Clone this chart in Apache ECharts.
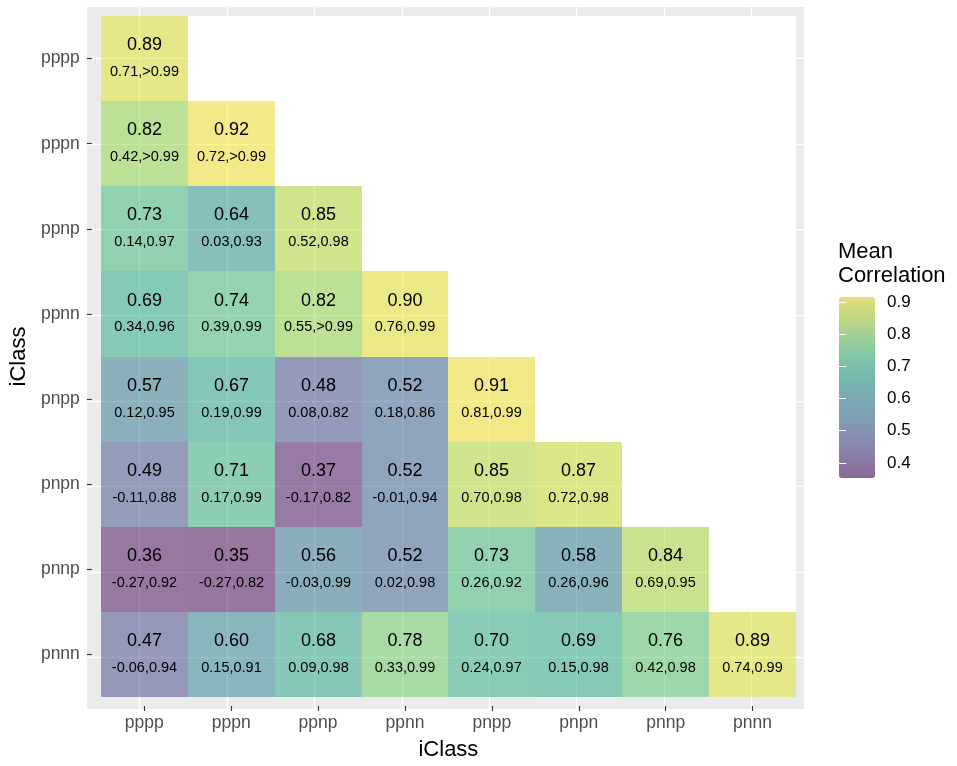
<!DOCTYPE html>
<html>
<head>
<meta charset="utf-8">
<script src="https://cdn.jsdelivr.net/npm/echarts@6/dist/echarts.min.js"></script>
<style>
html,body{margin:0;padding:0;background:#fff}
#main{width:957px;height:766px}
</style>
</head>
<body>
<div id="main"></div>
<script>
var classes = ['pppp','pppn','ppnp','ppnn','pnpp','pnpn','pnnp','pnnn'];

// lower triangle, one row per y class (pppp at top)
var meanRows = [
    [0.89],
    [0.82, 0.92],
    [0.73, 0.64, 0.85],
    [0.69, 0.74, 0.82, 0.90],
    [0.57, 0.67, 0.48, 0.52, 0.91],
    [0.49, 0.71, 0.37, 0.52, 0.85, 0.87],
    [0.36, 0.35, 0.56, 0.52, 0.73, 0.58, 0.84],
    [0.47, 0.60, 0.68, 0.78, 0.70, 0.69, 0.76, 0.89]
];
var ciRows = [
    ['0.71,>0.99'],
    ['0.42,>0.99','0.72,>0.99'],
    ['0.14,0.97','0.03,0.93','0.52,0.98'],
    ['0.34,0.96','0.39,0.99','0.55,>0.99','0.76,0.99'],
    ['0.12,0.95','0.19,0.99','0.08,0.82','0.18,0.86','0.81,0.99'],
    ['-0.11,0.88','0.17,0.99','-0.17,0.82','-0.01,0.94','0.70,0.98','0.72,0.98'],
    ['-0.27,0.92','-0.27,0.82','-0.03,0.99','0.02,0.98','0.26,0.92','0.26,0.96','0.69,0.95'],
    ['-0.06,0.94','0.15,0.91','0.09,0.98','0.33,0.99','0.24,0.97','0.15,0.98','0.42,0.98','0.74,0.99']
];
var legendTicks = [0.4, 0.5, 0.6, 0.7, 0.8, 0.9];
var colorRange = [0.353, 0.915];

// viridis, alpha 0.5 like the ggplot tiles
var viridis = ['rgba(68,1,84,0.5)','rgba(72,36,117,0.5)','rgba(65,68,135,0.5)','rgba(53,95,141,0.5)',
    'rgba(42,120,142,0.5)','rgba(33,145,140,0.5)','rgba(34,168,132,0.5)','rgba(68,191,112,0.5)',
    'rgba(122,209,81,0.5)','rgba(189,223,38,0.5)','rgba(253,231,37,0.5)'];

var cells = [], naCells = [];
for (var r = 0; r < classes.length; r++) {
    for (var c = 0; c < classes.length; c++) {
        if (c < meanRows[r].length) {
            cells.push({value: [c, r, meanRows[r][c]], ci: ciRows[r][c]});
        } else {
            naCells.push([c, r]);   // NA tiles -> white
        }
    }
}

var font = "'Liberation Sans', Arial, Helvetica, sans-serif";

// tile rect snapped to whole pixels so neighbours don't overlap
function tileShape(api) {
    var p = api.coord([api.value(0), api.value(1)]);
    var s = api.size([1, 1]);
    var x0 = Math.round(p[0] - s[0] / 2), x1 = Math.round(p[0] + s[0] / 2);
    var y0 = Math.round(p[1] - s[1] / 2), y1 = Math.round(p[1] + s[1] / 2);
    return {x: x0, y: y0, width: x1 - x0, height: y1 - y0};
}

function renderTile(params, api) {
    var item = cells[params.dataIndex];
    return {
        type: 'rect',
        shape: tileShape(api),
        style: {fill: api.visual('color')},
        textContent: {
            style: {
                text: '{a|' + api.value(2).toFixed(2) + '}\n{b|' + item.ci + '}',
                fill: '#000',
                rich: {
                    a: {fontSize: 18, lineHeight: 26, fill: '#000', fontFamily: font},
                    b: {fontSize: 14.5, lineHeight: 26, fill: '#000', fontFamily: font}
                }
            }
        },
        textConfig: {position: 'inside'}
    };
}

function renderNA(params, api) {
    return {type: 'rect', shape: tileShape(api), style: {fill: '#fff'}};
}

var option = {
    animation: false,
    textStyle: {fontFamily: font},
    title: {
        text: 'Mean\nCorrelation',
        left: 838, top: 240, padding: 0,
        textStyle: {fontSize: 22, fontWeight: 'normal', color: '#000', lineHeight: 24, fontFamily: font}
    },
    grid: [
        // panel background with the white major grid
        {left: 87, top: 7, width: 717, height: 702, show: true, backgroundColor: '#EBEBEB', borderWidth: 0},
        // tiles
        {left: 96, top: 16, width: 700, height: 684},
        // colourbar axis
        {left: 839, top: 297, width: 36, height: 181}
    ],
    xAxis: [
        {
            gridIndex: 0, type: 'value', min: 0.4, max: 8.6, splitNumber: 8, minInterval: 1, maxInterval: 1,
            axisLine: {show: false}, axisTick: {show: false}, axisLabel: {show: false},
            splitLine: {show: true, showMinLine: false, showMaxLine: false, lineStyle: {color: '#fff', width: 1.3}}
        },
        {
            gridIndex: 1, type: 'category', data: classes, position: 'bottom', offset: 9,
            axisLine: {show: false},
            axisTick: {show: true, alignWithLabel: true, length: 5, lineStyle: {color: '#333', width: 1.1}},
            axisLabel: {color: '#4D4D4D', fontSize: 17.5, margin: 8},
            splitLine: {show: false},
            name: 'iClass', nameLocation: 'middle', nameGap: 33,
            nameTextStyle: {fontSize: 22, color: '#000'}
        },
        {gridIndex: 2, type: 'value', show: false}
    ],
    yAxis: [
        {
            gridIndex: 0, type: 'value', min: 0.4, max: 8.6, splitNumber: 8, minInterval: 1, maxInterval: 1,
            axisLine: {show: false}, axisTick: {show: false}, axisLabel: {show: false},
            splitLine: {show: true, showMinLine: false, showMaxLine: false, lineStyle: {color: '#fff', width: 1.3}}
        },
        {
            gridIndex: 1, type: 'category', data: classes, inverse: true, position: 'left', offset: 9,
            axisLine: {show: false},
            axisTick: {show: true, alignWithLabel: true, length: 5, lineStyle: {color: '#333', width: 1.1}},
            axisLabel: {color: '#4D4D4D', fontSize: 17.5, margin: 12},
            splitLine: {show: false},
            name: 'iClass', nameLocation: 'middle', nameGap: 59,
            nameTextStyle: {fontSize: 22, color: '#000'}
        },
        {
            gridIndex: 2, type: 'value', min: colorRange[0], max: colorRange[1], position: 'right', z: 10,
            axisLine: {show: false},
            axisTick: {show: true, inside: true, length: 7, customValues: legendTicks, lineStyle: {color: '#fff', width: 1}},
            axisLabel: {show: true, customValues: legendTicks, fontSize: 17, color: '#000', margin: 12},
            splitLine: {show: false}
        },
        {
            gridIndex: 2, type: 'value', min: colorRange[0], max: colorRange[1], position: 'left', z: 10,
            axisLine: {show: false},
            axisTick: {show: true, inside: true, length: 7, customValues: legendTicks, lineStyle: {color: '#fff', width: 1}},
            axisLabel: {show: false},
            splitLine: {show: false}
        }
    ],
    visualMap: {
        type: 'continuous',
        min: colorRange[0], max: colorRange[1],
        dimension: 2,
        seriesIndex: 0,
        calculable: false,
        left: 839, top: 297, padding: 0,
        itemWidth: 36, itemHeight: 181,
        inRange: {color: viridis}
    },
    series: [
        {
            type: 'custom',
            xAxisIndex: 1, yAxisIndex: 1,
            data: cells,
            renderItem: renderTile,
            encode: {x: 0, y: 1},
            silent: true
        },
        {
            type: 'custom',
            xAxisIndex: 1, yAxisIndex: 1,
            data: naCells,
            renderItem: renderNA,
            encode: {x: 0, y: 1},
            silent: true
        }
    ]
};

var chart = echarts.init(document.getElementById('main'));
chart.setOption(option, true);
window.onresize = function () { chart.resize(); };
</script>
</body>
</html>
